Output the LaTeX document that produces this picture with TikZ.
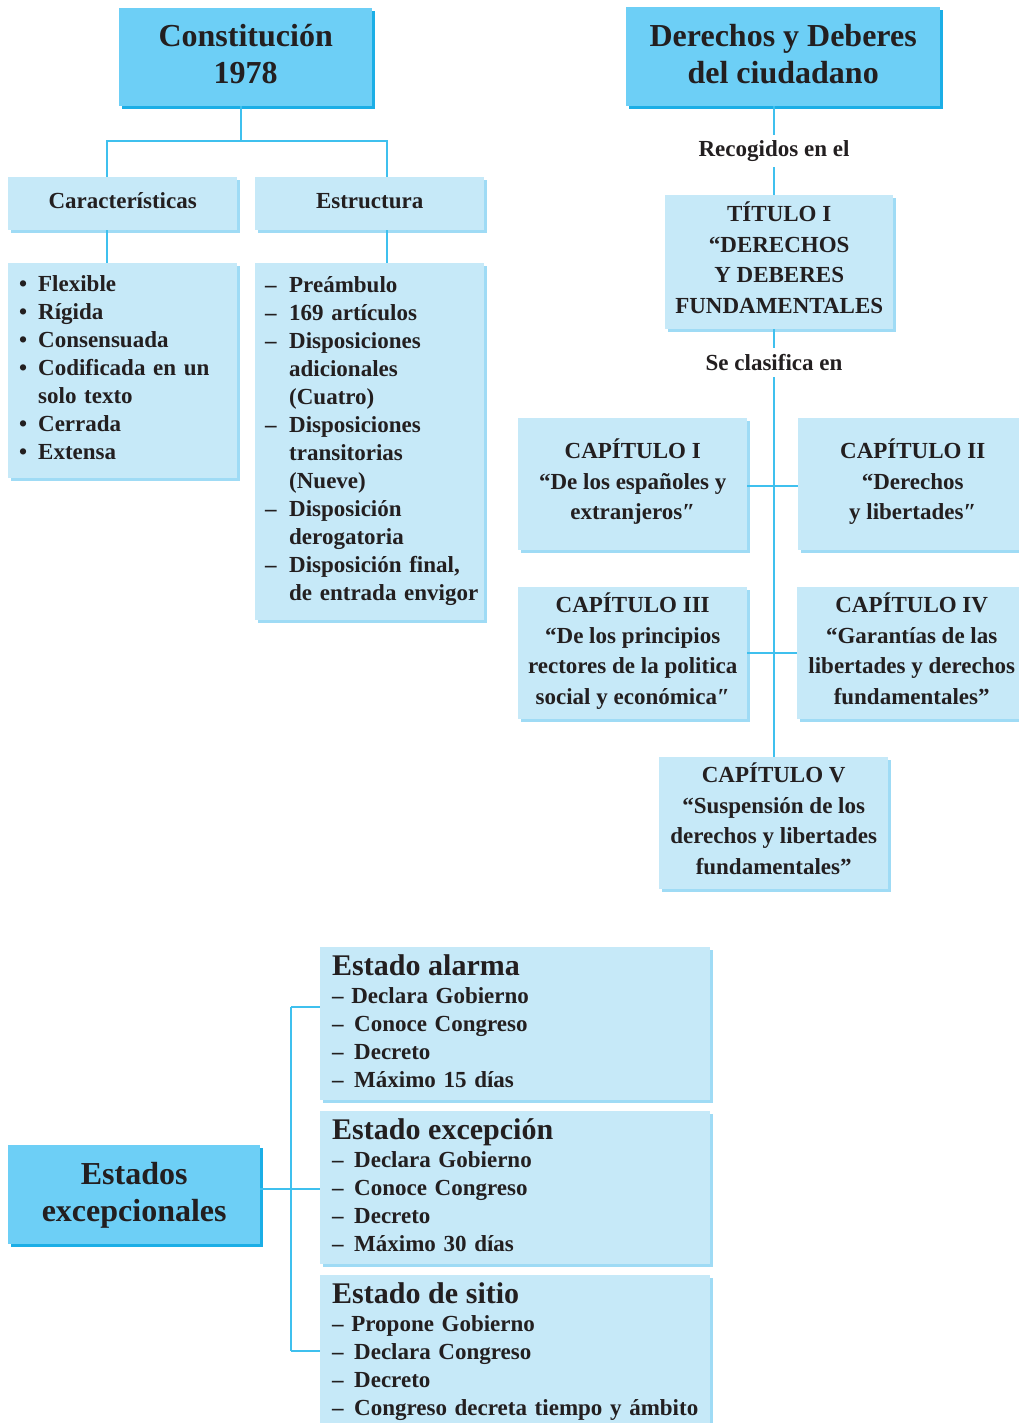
\documentclass[tikz,border=0pt]{standalone}
\usepackage{fontspec}
\setmainfont{Liberation Serif}
\usetikzlibrary{shadows}
\definecolor{lfill}{HTML}{C6E9F8}
\definecolor{lshad}{HTML}{9FDBF5}
\definecolor{tfill}{HTML}{6DCFF6}
\definecolor{tshad}{HTML}{1BAEE6}
\definecolor{conn}{HTML}{3FC0EE}
\definecolor{ink}{HTML}{231F20}
\hyphenpenalty=10000
\exhyphenpenalty=10000
\newcommand\bodyf{\bfseries\fontsize{23}{28}\selectfont}
\newcommand\capf{\bfseries\fontsize{23}{30.5}\selectfont}
\newcommand\titf{\bfseries\fontsize{32}{37}\selectfont}
\newcommand\estf{\fontsize{30}{28}\selectfont}
\newcommand\bul{\makebox[19pt][l]{•}}
\newcommand\dsh{\makebox[24pt][l]{–}}
\newcommand\ind{\hspace*{24pt}}
\newcommand\edsh{\makebox[22pt][l]{–}}
\newcommand\topst{\rule{0pt}{\dimexpr0.66em+8pt\relax}}
\newcommand\botst{\rule[-13pt]{0pt}{13pt}}
\tikzset{
  base/.style={anchor=north west, inner sep=0pt, text=ink},
  lbox/.style={base, fill=lfill, drop shadow={fill=lshad, opacity=1, shadow xshift=3pt, shadow yshift=-3pt}},
  tbox/.style={base, fill=tfill, font=\titf, align=center, drop shadow={fill=tshad, opacity=1, shadow xshift=3pt, shadow yshift=-3pt}},
  cbox/.style={lbox, align=center},
  llist/.style={lbox, align=left},
  lab/.style={inner xsep=4pt, inner ysep=0pt, text=ink, font=\bodyf},
  link/.style={draw=conn, line width=1.5pt}
}
\begin{document}
\begin{tikzpicture}[x=1pt,y=-1pt]
\useasboundingbox (0,0) rectangle (1018,1423);
\fill[white] (0,0) rectangle (1018,1423);

% top left
\node[tbox, minimum width=253pt, minimum height=98pt] (const) at (119,8) {\topst Constitución\\1978\botst};
\node[cbox, font=\bodyf, minimum width=229pt, minimum height=53pt] (carac) at (8,177) {\topst Características\botst};
\node[cbox, font=\bodyf, minimum width=229pt, minimum height=53pt] (estr) at (255,177) {\topst Estructura\botst};
\node[llist, font=\bodyf, minimum width=229pt, minimum height=215pt, inner xsep=11pt, text width=207pt] (caraclist) at (8,263)
  {\topst\bul Flexible\\\bul Rígida\\\bul Consensuada\\\bul Codificada~en~un\\\hspace*{19pt}solo texto\\\bul Cerrada\\\bul Extensa\botst};
\node[llist, font=\bodyf, minimum width=229pt, minimum height=357pt, inner xsep=10pt, text width=209pt] (estrlist) at (255,263)
  {\topst\dsh Preámbulo\\\dsh 169~artículos\\\dsh Disposiciones\\\ind adicionales\\\ind (Cuatro)\\\dsh Disposiciones\\\ind transitorias\\\ind (Nueve)\\\dsh Disposición\\\ind derogatoria\\\dsh Disposición~final,\\\ind de~entrada~envigor\botst};

% top right
\node[tbox, minimum width=314pt, minimum height=99pt] (dere) at (626,7) {\topst Derechos y Deberes\\del ciudadano\botst};
\node[lab, minimum height=32pt] (rec) at (774,151) {Recogidos en el};
\node[cbox, font=\capf, minimum width=228pt, minimum height=134pt] (titulo) at (665,195) {\topst TÍTULO I\\“DERECHOS\\Y DEBERES\\FUNDAMENTALES\botst};
\node[lab, minimum height=29pt] (clas) at (774,362.5) {Se clasifica en};
\node[cbox, font=\capf, minimum width=229pt, minimum height=132pt] (cap1) at (518,418) {\topst CAPÍTULO I\\“De los españoles y\\extranjeros″\botst};
\node[cbox, font=\capf, minimum width=229pt, minimum height=132pt] (cap2) at (798,418) {\topst CAPÍTULO II\\“Derechos\\y libertades″\botst};
\node[cbox, font=\capf, minimum width=229pt, minimum height=132pt] (cap3) at (518,587) {\topst CAPÍTULO III\\“De los principios\\rectores de la politica\\social y económica″\botst};
\node[cbox, font=\capf, minimum width=229pt, minimum height=132pt] (cap4) at (797,587) {\topst CAPÍTULO IV\\“Garantías de las\\libertades y derechos\\fundamentales”\botst};
\node[cbox, font=\capf, minimum width=229pt, minimum height=132pt] (cap5) at (659,757) {\topst CAPÍTULO V\\“Suspensión de los\\derechos y libertades\\fundamentales”\botst};

% bottom
\node[tbox, minimum width=252pt, minimum height=99pt] (estados) at (8,1145) {\topst Estados\\excepcionales\botst};
\node[llist, font=\bodyf, minimum width=390pt, minimum height=152pt, inner xsep=12pt, text width=366pt] (alarma) at (320,947)
  {{\estf\topst Estado alarma}\\– Declara Gobierno\\\edsh Conoce Congreso\\\edsh Decreto\\\edsh Máximo 15 días\botst};
\node[llist, font=\bodyf, minimum width=390pt, minimum height=152pt, inner xsep=12pt, text width=366pt] (excep) at (320,1111)
  {{\estf\topst Estado excepción}\\\edsh Declara Gobierno\\\edsh Conoce Congreso\\\edsh Decreto\\\edsh Máximo 30 días\botst};
\node[llist, font=\bodyf, minimum width=390pt, minimum height=150pt, inner xsep=12pt, text width=366pt] (sitio) at (320,1275)
  {{\estf\topst Estado de sitio}\\– Propone Gobierno\\\edsh Declara Congreso\\\edsh Decreto\\\edsh Congreso~decreta~tiempo~y~ámbito\botst};

% connectors
\coordinate (j1) at (241,141);
\coordinate (j2) at (107,141);
\coordinate (j3) at (387,141);
\draw[link] (const.south -| j1) -- (j1);
\draw[link] (j2 |- carac.north) -- (j2) -- (j3) -- (j3 |- estr.north);
\draw[link] (carac.south -| j2) -- (j2 |- caraclist.north);
\draw[link] (estr.south -| j3) -- (j3 |- estrlist.north);

\draw[link] (rec |- dere.south) -- (rec.north);
\draw[link] (rec.south) -- (rec |- titulo.north);
\draw[link] (clas |- titulo.south) -- (clas.north);
\draw[link] (clas.south) -- (clas |- cap5.north);
\draw[link] (cap1.east) ++(0,2) coordinate (h1) (h1) -- (h1 -| cap2.west);
\draw[link] (cap3.east) ++(0,0) coordinate (h2) (h2) -- (h2 -| cap4.west);

\coordinate (v1) at (291,1007);
\coordinate (v2) at (291,1189);
\coordinate (v3) at (291,1351);
\draw[link] (v1) -- (v3);
\draw[link] (v1) -- (v1 -| alarma.west);
\draw[link] (estados.east |- v2) -- (v2 -| excep.west);
\draw[link] (v3) -- (v3 -| sitio.west);
\end{tikzpicture}
\end{document}
